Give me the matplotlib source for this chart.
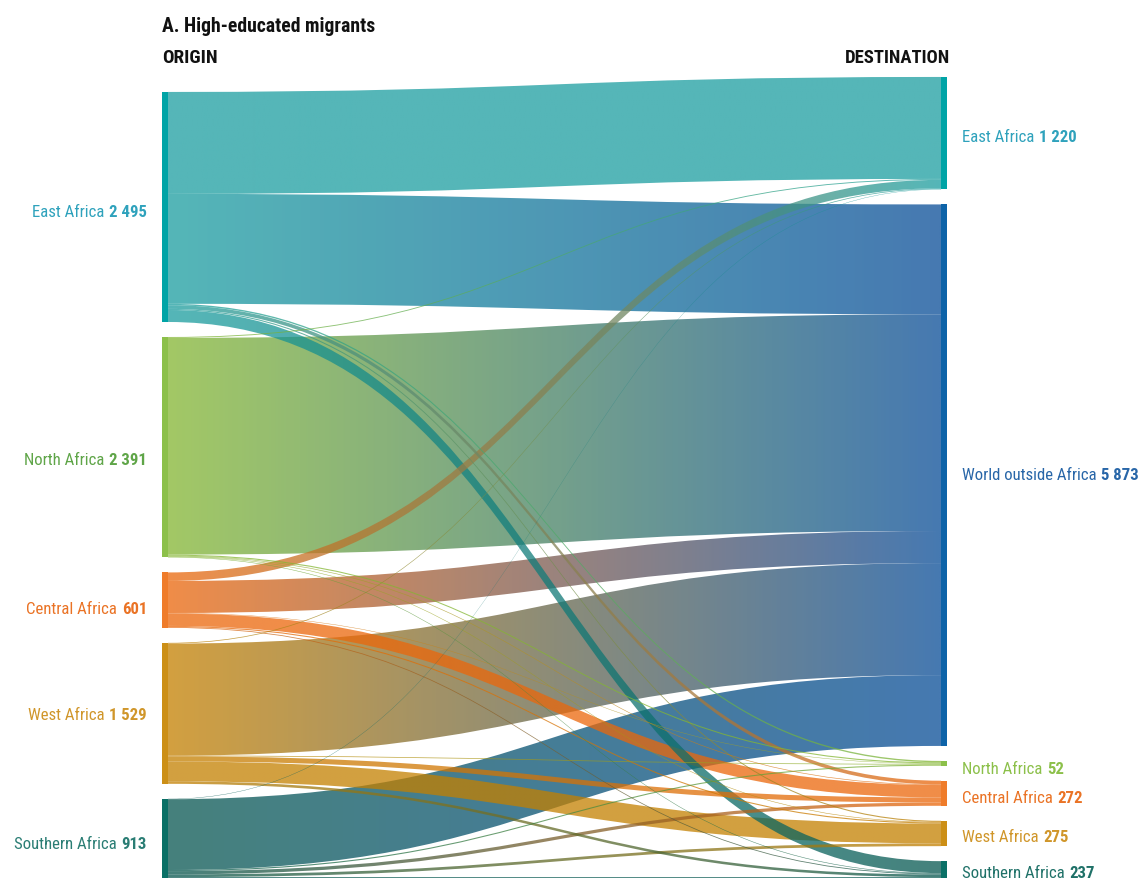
import matplotlib
matplotlib.use('Agg')
import numpy as np
import matplotlib.pyplot as plt
from matplotlib.path import Path
from matplotlib.patches import PathPatch, Rectangle
from matplotlib.offsetbox import TextArea, HPacker, AnnotationBbox
from matplotlib.colors import to_rgb

FONT = ['Roboto Condensed', 'Roboto', 'DejaVu Sans']

# origin and destination regions (high-educated migrants, thousands)
origins = ['East Africa', 'North Africa', 'Central Africa', 'West Africa', 'Southern Africa']
destinations = ['East Africa', 'World outside Africa', 'North Africa', 'Central Africa',
                'West Africa', 'Southern Africa']

# flows[i][j] = origin i -> destination j
from_east = [1106, 1192, 15, 40, 12, 130]
from_north = [10, 2350, 12, 7, 6, 6]
from_central = [92, 348, 5, 135, 12, 9]
from_west = [8, 1215, 8, 55, 215, 28]
from_southern = [4, 768, 12, 35, 30, 64]
flows = np.array([from_east, from_north, from_central, from_west, from_southern])

origin_node_colors = ['#00A4A6', '#8CC04A', '#EF7C2A', '#CC8F16', '#0A7066']
origin_link_colors = ['#1C9EA0', '#84B632', '#EB670B', '#C48000', '#065750']
origin_label_colors = ['#2FA2BC', '#5FA548', '#EA7325', '#D0962A', '#2A7D74']
dest_node_colors = ['#00A4A6', '#0D63A8', '#8CC04A', '#EF7C2A', '#CC8F16', '#0A7066']
dest_link_colors = ['#1C9EA0', '#084C97', '#84B632', '#EB670B', '#C48000', '#065750']
dest_label_colors = ['#2FA2BC', '#2866A8', '#8CC04A', '#EA7325', '#D0962A', '#1F7168']
link_alpha = 0.75

# small vertical nudges of the labels, as in the original layout
origin_label_dy = [5, 12, 8, 1, 3]
dest_label_dy = [3, -1, 5, 4, 3, 0]


def fmt(v):
    return f'{v:,}'.replace(',', ' ')


W, H = 1141, 879
fig = plt.figure(figsize=(W / 100, H / 100), dpi=100)
ax = fig.add_axes([0, 0, 1, 1])
ax.set_xlim(0, W)
ax.set_ylim(H, 0)
ax.axis('off')

# layout (pixels)
k = 0.0922          # px per unit
gap = 15
bottom = 884
xl, xr = 162, 941   # left node bar start, right node bar start
bw = 6

out_tot = flows.sum(axis=1)
in_tot = flows.sum(axis=0)


def stack(totals):
    h = totals * k
    top = bottom - h.sum() - gap * (len(totals) - 1)
    tops = top + np.concatenate([[0], np.cumsum(h[:-1] + gap)])
    return tops, h


otop, oh = stack(out_tot)
dtop, dh = stack(in_tot)

# link offsets
o_off = otop.copy()
d_off = dtop.copy()
links = []
for i in range(len(origins)):
    for j in range(len(destinations)):
        v = flows[i, j]
        links.append([i, j, v, o_off[i], None])
        o_off[i] += v * k
for j in range(len(destinations)):
    for lk in links:
        if lk[1] == j:
            lk[4] = d_off[j]
            d_off[j] += lk[2] * k

x0, x1 = xl + bw, xr
xm = (x0 + x1) / 2
n = 256
t = np.linspace(0, 1, n)
for i, j, v, y0, y1 in sorted(links, key=lambda l: -l[2]):
    w = v * k
    verts = [(x0, y0), (xm, y0), (xm, y1), (x1, y1),
             (x1, y1 + w), (xm, y1 + w), (xm, y0 + w), (x0, y0 + w), (x0, y0)]
    codes = [Path.MOVETO, Path.CURVE4, Path.CURVE4, Path.CURVE4,
             Path.LINETO, Path.CURVE4, Path.CURVE4, Path.CURVE4, Path.CLOSEPOLY]
    patch = PathPatch(Path(verts, codes), facecolor='none', edgecolor='none')
    ax.add_patch(patch)
    c0 = np.array(to_rgb(origin_link_colors[i]))
    c1 = np.array(to_rgb(dest_link_colors[j]))
    grad = np.ones((1, n, 4))
    grad[0, :, :3] = c0[None, :] * (1 - t[:, None]) + c1[None, :] * t[:, None]
    grad[0, :, 3] = link_alpha
    ylo, yhi = min(y0, y1) - 1, max(y0, y1) + w + 1
    im = ax.imshow(grad, extent=[x0, x1, yhi, ylo], aspect='auto',
                   interpolation='bilinear', zorder=2)
    im.set_clip_path(patch)

# node bars
for i in range(len(origins)):
    ax.add_patch(Rectangle((xl, otop[i]), bw, oh[i], color=origin_node_colors[i], zorder=3, lw=0))
for j in range(len(destinations)):
    ax.add_patch(Rectangle((xr, dtop[j]), bw, dh[j], color=dest_node_colors[j], zorder=3, lw=0))


def label(x, y, name, value, color, align):
    a = TextArea(name, textprops=dict(color=color, fontsize=12.1, family=FONT))
    b = TextArea(fmt(value), textprops=dict(color=color, fontsize=12.1, family=FONT,
                                            fontweight='bold'))
    box = HPacker(children=[a, b], pad=0, sep=3.5, align='baseline')
    ab = AnnotationBbox(box, (x, y), xycoords='data', frameon=False,
                        box_alignment=(align, 0.5), pad=0)
    ax.add_artist(ab)


for i, name in enumerate(origins):
    label(147, otop[i] + oh[i] / 2 + origin_label_dy[i], name, int(out_tot[i]),
          origin_label_colors[i], 1)
for j, name in enumerate(destinations):
    label(962, dtop[j] + dh[j] / 2 + dest_label_dy[j], name, int(in_tot[j]),
          dest_label_colors[j], 0)

ax.text(162, 27, 'A. High-educated migrants', fontsize=14.2, fontweight='bold',
        family=FONT, color='#111111', va='center', ha='left')
ax.text(162, 58, 'ORIGIN', fontsize=13.8, fontweight='bold', family=FONT,
        color='#111111', va='center', ha='left')
ax.text(950, 58, 'DESTINATION', fontsize=13.4, fontweight='bold', family=FONT,
        color='#111111', va='center', ha='right')

fig.savefig('out.png', dpi=100)
